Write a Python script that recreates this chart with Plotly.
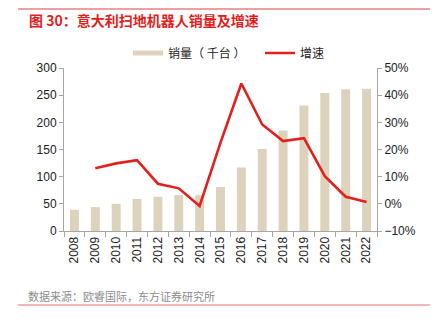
import plotly.graph_objects as go

years = ["2008", "2009", "2010", "2011", "2012", "2013", "2014", "2015",
         "2016", "2017", "2018", "2019", "2020", "2021", "2022"]
sales = [39, 44, 50, 59, 63, 66, 66, 81, 117, 151, 185, 231, 254, 261, 262]
growth_years = years[1:]
growth = [13.1, 14.9, 16.1, 7.4, 5.7, -0.8, 22.5, 44.3, 29.2, 23.1, 24.2, 10.2, 2.6, 0.7]

BAR = "#DDD3BC"
RED = "#E3201B"
AXIS = "#A6A6A6"
FONT = "Liberation Sans, Noto Sans CJK SC, sans-serif"
CJK = "Noto Sans CJK SC, sans-serif"

W, H = 435, 322
L, R, T, B = 64, 58, 68, 91
pw, ph = W - L - R, H - T - B


def px(x):
    return (x - L) / pw


def py(y):
    return (H - B - y) / ph


fig = go.Figure()
fig.add_trace(go.Bar(x=years, y=sales, marker_color=BAR, marker_line_width=0,
                     showlegend=False, yaxis="y"))
# legend entries drawn as line swatches
fig.add_trace(go.Scatter(x=[None], y=[None], mode="lines", name="销量（ 千台 ）",
                         line=dict(color=BAR, width=5), yaxis="y"))
fig.add_trace(go.Scatter(x=growth_years, y=growth, mode="lines", name="增速",
                         line=dict(color=RED, width=2.6), yaxis="y2",
                         showlegend=True))

fig.update_layout(
    width=W, height=H,
    margin=dict(l=L, r=R, t=T, b=B),
    paper_bgcolor="white", plot_bgcolor="white",
    bargap=0.57,
    font=dict(family=FONT, size=12, color="#222"),
    showlegend=True,
    legend=dict(orientation="h", x=px(128), y=py(53), xanchor="left", yanchor="middle",
                font=dict(family=CJK, size=12, color="#222"),
                itemwidth=30, entrywidth=87, traceorder="normal",
                bgcolor="rgba(0,0,0,0)"),
    xaxis=dict(type="category", tickangle=-90, tickson="boundaries",
               ticks="outside", ticklen=5, tickcolor=AXIS,
               showline=True, linecolor=AXIS, linewidth=1,
               showgrid=False, tickfont=dict(size=12)),
    yaxis=dict(range=[0, 300], dtick=50, ticks="outside", ticklen=4,
               tickcolor=AXIS, showline=True, linecolor=AXIS, linewidth=1,
               showgrid=False, zeroline=False, tickfont=dict(size=12)),
    yaxis2=dict(range=[-10, 50], dtick=10, ticksuffix="%", overlaying="y",
                side="right", ticks="outside", ticklen=4, tickcolor=AXIS,
                showline=True, linecolor=AXIS, linewidth=1, showgrid=False,
                zeroline=False, tickfont=dict(size=12)),
    shapes=[
        dict(type="line", xref="paper", yref="paper", x0=px(18), x1=px(430),
             y0=py(9), y1=py(9), line=dict(color="#E04040", width=1.2)),
        dict(type="line", xref="paper", yref="paper", x0=px(18), x1=px(430),
             y0=py(305), y1=py(305), line=dict(color="#F0A0A0", width=1.5)),
    ],
    annotations=[
        dict(text="<b>图 30：意大利扫地机器人销量及增速</b>", xref="paper", yref="paper",
             x=px(27), y=py(20), xanchor="left", yanchor="middle", showarrow=False,
             font=dict(family=CJK, size=14, color="#E3201B")),
        dict(text="数据来源：欧睿国际，东方证券研究所", xref="paper", yref="paper",
             x=px(26), y=py(296), xanchor="left", yanchor="middle", showarrow=False,
             font=dict(family=CJK, size=11, color="#8C8C8C")),
    ],
)

fig.write_html("out.html")
